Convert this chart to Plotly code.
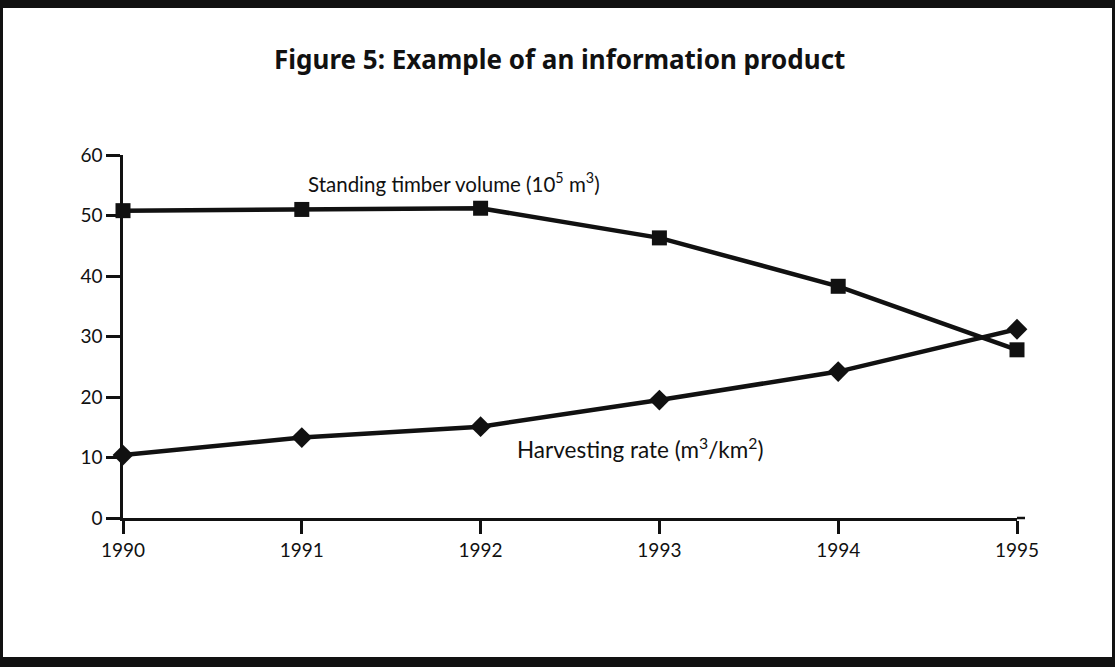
import plotly.graph_objects as go

years = [1990, 1991, 1992, 1993, 1994, 1995]
standing_timber = [50.8, 51.0, 51.2, 46.3, 38.3, 27.8]
harvesting_rate = [10.4, 13.3, 15.1, 19.5, 24.2, 31.2]
y_ticks = [0, 10, 20, 30, 40, 50, 60]

W, H = 1115, 667
L, R, T, B = 123, 1017, 155, 518  # plot area in pixels


def px(x):
    return (x - L) / (R - L)


def py(y):
    return (B - y) / (B - T)


fig = go.Figure()
fig.add_trace(go.Scatter(
    x=years, y=standing_timber, mode="lines+markers",
    line=dict(color="#111", width=4.5),
    marker=dict(symbol="square", size=15, color="#111"),
    cliponaxis=False, showlegend=False))
fig.add_trace(go.Scatter(
    x=years, y=harvesting_rate, mode="lines+markers",
    line=dict(color="#111", width=4.5),
    marker=dict(symbol="diamond", size=16, color="#111"),
    cliponaxis=False, showlegend=False))

font_txt = "Lato, 'Open Sans', sans-serif"

fig.update_layout(
    width=W, height=H,
    margin=dict(l=L, r=W - R, t=T, b=H - B, pad=0),
    paper_bgcolor="white", plot_bgcolor="white",
    title=dict(text="<b>Figure 5: Example of an information product</b>",
               x=0.502, xanchor="center", y=1 - 60 / H, yanchor="middle",
               font=dict(family="'Noto Sans', sans-serif", size=26, color="#111")),
    xaxis=dict(range=[1990, 1995], tickvals=years, ticktext=[str(y) for y in years],
               showline=True, linecolor="#111", linewidth=2.5,
               ticks="outside", ticklen=13, tickwidth=2.5, tickcolor="#111",
               showgrid=False, zeroline=False,
               tickfont=dict(family=font_txt, size=19, color="#111")),
    yaxis=dict(range=[0, 60], tickvals=y_ticks,
               showline=True, linecolor="#111", linewidth=2.5,
               ticks="outside", ticklen=14, tickwidth=2.5, tickcolor="#111",
               showgrid=False, zeroline=False,
               tickfont=dict(family=font_txt, size=19, color="#111")),
    annotations=[
        dict(text="Standing timber volume (10<sup>5</sup> m<sup>3</sup>)",
             xref="paper", yref="paper", x=px(306), y=py(182),
             xanchor="left", yanchor="middle", showarrow=False,
             font=dict(family=font_txt, size=20.5, color="#111")),
        dict(text="Harvesting rate (m<sup>3</sup>/km<sup>2</sup>)",
             xref="paper", yref="paper", x=px(515), y=py(448),
             xanchor="left", yanchor="middle", showarrow=False,
             font=dict(family=font_txt, size=22.5, color="#111")),
    ],
    shapes=[
        # x-axis line extension past 1995
        dict(type="line", xref="paper", yref="paper", x0=1, x1=px(1025), y0=0, y1=0,
             line=dict(color="#111", width=2.5)),
        # black frame of the scanned page
        dict(type="rect", xref="paper", yref="paper", x0=px(-5), x1=px(W + 5),
             y0=py(-5), y1=py(8), fillcolor="#111", line=dict(width=0)),
        dict(type="rect", xref="paper", yref="paper", x0=px(-5), x1=px(W + 5),
             y0=py(657), y1=py(H + 5), fillcolor="#111", line=dict(width=0)),
        dict(type="rect", xref="paper", yref="paper", x0=px(-5), x1=px(3),
             y0=py(-5), y1=py(H + 5), fillcolor="#111", line=dict(width=0)),
        dict(type="rect", xref="paper", yref="paper", x0=px(1112), x1=px(W + 5),
             y0=py(-5), y1=py(H + 5), fillcolor="#111", line=dict(width=0)),
    ],
)

fig.write_html("out.html", config={"displayModeBar": False},
               post_script="document.body.style.margin='0';document.body.style.overflow='hidden';")
